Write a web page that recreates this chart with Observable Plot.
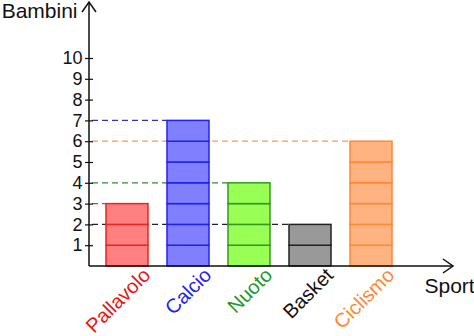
<!DOCTYPE html>
<html>
<head>
<meta charset="utf-8">
<script src="https://cdn.jsdelivr.net/npm/d3@7"></script>
<script src="https://cdn.jsdelivr.net/npm/@observablehq/plot@0.6"></script>
<style>
  html, body { margin: 0; padding: 0; background: #fff; }
  svg { display: block; }
</style>
</head>
<body>
<div id="chart"></div>
<script>
const sports = ["Pallavolo", "Calcio", "Nuoto", "Basket", "Ciclismo"];
const bambini = [3, 7, 4, 2, 6];
const fills = ["#ff8080", "#8080ff", "#99ff55", "#999999", "#ffb380"];
const strokes = ["#ee2222", "#2222ee", "#339922", "#222222", "#ff8833"];
const labelColors = ["#ee1111", "#2222ee", "#229922", "#111111", "#ff8833"];
const guideColors = ["#ee3333", "#3333bb", "#338833", "#222222", "#ff9944"];
const yTicks = [1, 2, 3, 4, 5, 6, 7, 8, 9, 10];
const yTitle = "Bambini";
const xTitle = "Sport";

const sportData = sports.map((s, i) => ({sport: s, value: bambini[i], i}));
const units = sportData.flatMap(d => d3.range(d.value).map(k => ({sport: d.sport, y1: k, y2: k + 1, i: d.i})));

const font = "'Liberation Sans', Arial, Helvetica, sans-serif";

function axesArrows(index, scales, values, dim) {
  const {width, height, marginLeft, marginRight, marginTop, marginBottom} = dim;
  const x0 = marginLeft, y0 = height - marginBottom, x1 = width - marginRight, y1 = marginTop;
  const g = d3.create("svg:g").attr("fill", "none").attr("stroke", "#111").attr("stroke-width", 1.5);
  g.append("path").attr("d", `M${x0},${y0}V${y1}M${x0},${y0}H${x1}`);
  g.append("path").attr("d", `M${x0 - 7},${y1 + 10}L${x0},${y1}L${x0 + 7},${y1 + 10}`);
  g.append("path").attr("d", `M${x1 - 10},${y0 - 7}L${x1},${y0}L${x1 - 10},${y0 + 7}`);
  return g.node();
}

// dashed guides from the y axis to each bar, positioned through Plot's scales
function guides(index, scales, values, dim) {
  const g = d3.create("svg:g").attr("fill", "none").attr("stroke-width", 1.2).attr("stroke-dasharray", "6,4");
  for (const d of sportData) {
    const y = scales.y(d.value);
    g.append("line")
      .attr("x1", dim.marginLeft + 3).attr("x2", scales.x(d.sport))
      .attr("y1", y).attr("y2", y)
      .attr("stroke", guideColors[d.i]);
  }
  return g.node();
}

const chart = Plot.plot({
  width: 474,
  height: 336,
  marginLeft: 89,
  marginRight: 21,
  marginTop: 2,
  marginBottom: 70,
  style: {fontFamily: font, background: "#fff", color: "#111"},
  x: {type: "band", domain: sports, range: [89, 408.5], paddingInner: 0.316, paddingOuter: 0.26, align: 0.5, axis: null},
  y: {domain: [0, 10], range: [266, 58], axis: null},
  color: {type: "identity"},
  marks: [
    guides,
    Plot.barY(units, {x: "sport", y1: "y1", y2: "y2", fill: d => fills[d.i], stroke: d => strokes[d.i], strokeWidth: 1.5}),
    Plot.axisY(yTicks, {anchor: "left", tickSize: 8, dx: 4, tickPadding: 3, fontSize: 18, label: null, stroke: "#111", fill: "#111", strokeWidth: 1.2}),
    axesArrows,
    Plot.text(sportData, {x: "sport", text: "sport", fill: d => labelColors[d.i], rotate: -45, textAnchor: "end", frameAnchor: "bottom", dx: 24, dy: 10, fontSize: 20}),
    Plot.text([yTitle], {text: d => d, frameAnchor: "top-left", textAnchor: "end", lineAnchor: "top", dx: -12, dy: 1, fontSize: 21, fill: "#111"}),
    Plot.text([xTitle], {text: d => d, frameAnchor: "bottom-right", textAnchor: "start", lineAnchor: "top", dx: -29, dy: 12, fontSize: 21, fill: "#111"})
  ]
});
document.getElementById("chart").appendChild(chart);
</script>
</body>
</html>
